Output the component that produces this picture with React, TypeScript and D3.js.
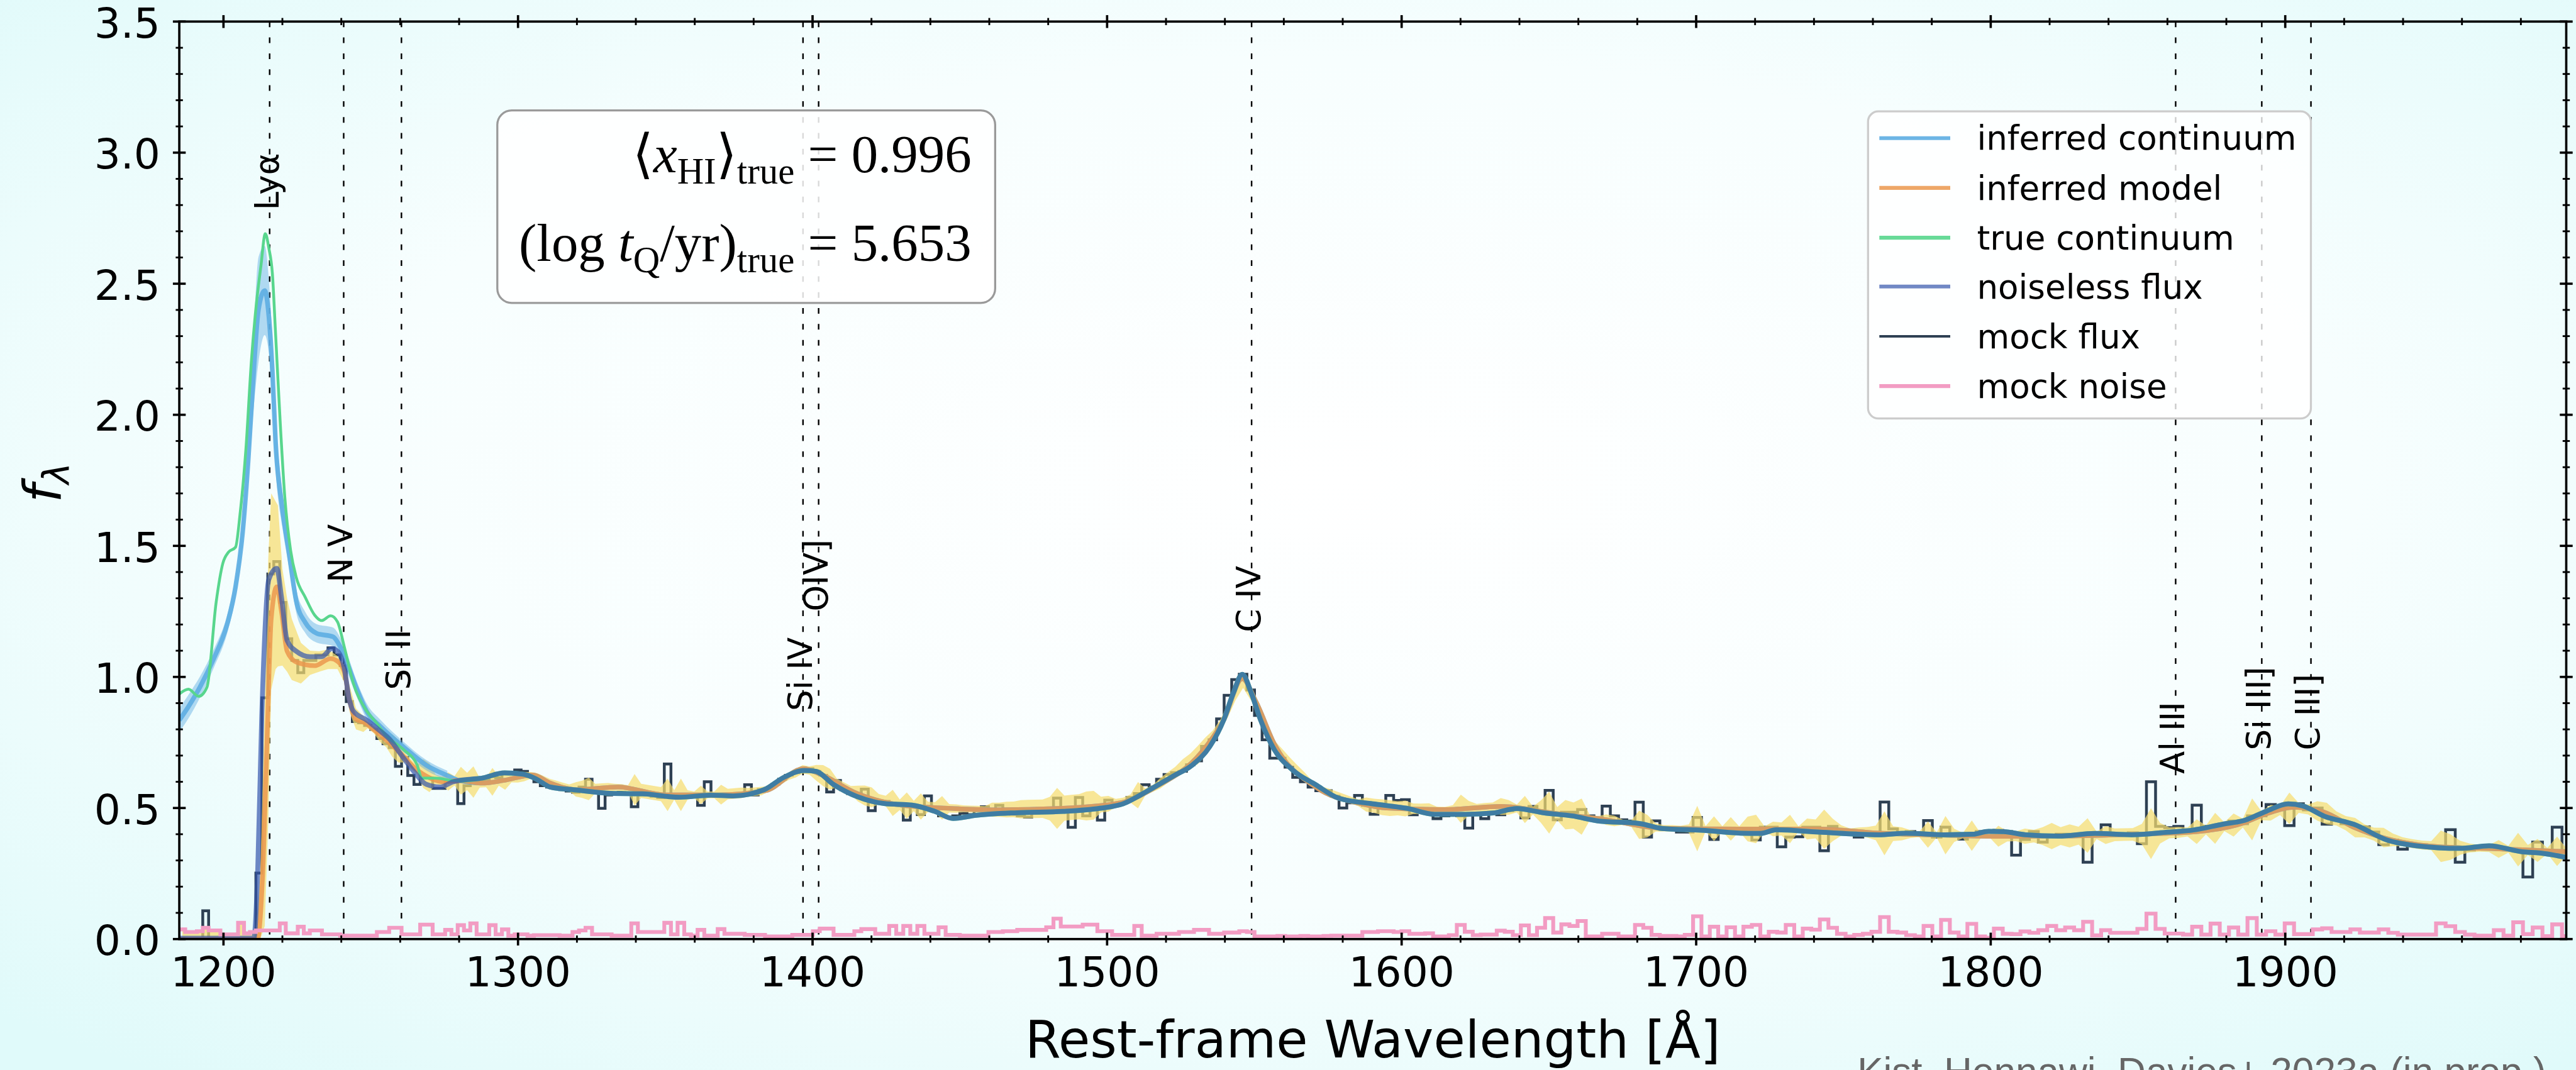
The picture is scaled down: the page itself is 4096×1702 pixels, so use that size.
import React, { useEffect } from 'react';
import * as d3 from 'd3';

// ---------- layout (reference pixel units; the svg viewBox scales to the window) ----------
const VW = 5014;
const VH = 2084;
const PL = 349, PR = 4995, PT = 42, PB = 1829;

// ---------- axes ----------
const X_DOMAIN: [number, number] = [1185.0, 1995.4];
const Y_DOMAIN: [number, number] = [0, 3.5];
const xTickValues = [1200, 1300, 1400, 1500, 1600, 1700, 1800, 1900];
const yTickValues = [0, 0.5, 1.0, 1.5, 2.0, 2.5, 3.0, 3.5];
const yTickLabels = ['0.0', '0.5', '1.0', '1.5', '2.0', '2.5', '3.0', '3.5'];

// ---------- emission lines ----------
const lineWaves = [1215.67, 1240.81, 1260.42, 1396.76, 1402.06, 1549.06, 1862.79, 1892.03, 1908.73];
const lineNames = ['Lyα', 'N V', 'Si II', 'Si IV', 'OIV]', 'C IV', 'Al III', 'Si III]', 'C III]'];
const lineLabelY = [2.78, 1.36, 0.95, 0.87, 1.25, 1.17, 0.63, 0.72, 0.72];

// ---------- smooth curves [wavelength, flux] ----------
const trueContBlue: [number, number][] = [
  [1185.0, 0.935], [1188.1, 0.953], [1191.6, 0.926], [1194.4, 0.961], [1197.5, 1.284], [1199.8, 1.434],
  [1201.7, 1.476], [1204.1, 1.495], [1205.6, 1.619], [1207.6, 1.867], [1209.5, 2.209], [1211.1, 2.416],
  [1212.7, 2.567], [1214.2, 2.691], [1215.4, 2.636], [1216.6, 2.539], [1217.7, 2.306], [1219.3, 1.963],
  [1220.8, 1.689], [1222.8, 1.482], [1224.7, 1.38], [1227.8, 1.303], [1231.0, 1.235], [1233.3, 1.215],
  [1236.4, 1.233], [1238.7, 1.21], [1241.1, 1.111], [1244.1, 0.975], [1248.4, 0.874], [1252.0, 0.824],
  [1254.9, 0.78], [1261.2, 0.722], [1265.8, 0.663], [1267.3, 0.614], [1272.0, 0.614], [1278.3, 0.605],
];

const noiselessBlue: [number, number][] = [
  [1185.0, 0.003], [1210.3, 0.004], [1211.6, 0.25], [1213.0, 0.85], [1215.4, 1.372], [1218.1, 1.414],
  [1219.7, 1.303], [1221.6, 1.139], [1224.7, 1.098], [1229.4, 1.077], [1233.3, 1.077], [1236.8, 1.108],
  [1238.7, 1.098], [1241.1, 1.029], [1242.6, 0.92], [1244.1, 0.87], [1248.7, 0.835], [1252.5, 0.80],
  [1256.5, 0.761], [1260.5, 0.70], [1264.3, 0.644], [1268.9, 0.59], [1273.6, 0.58], [1278.0, 0.60],
];

const inferContBlue: [number, number][] = [
  [1185.0, 0.835], [1188.0, 0.885], [1192.0, 0.961], [1196.7, 1.07], [1201.4, 1.207], [1204.1, 1.344],
  [1206.5, 1.551], [1208.4, 1.826], [1209.9, 2.1], [1211.9, 2.402], [1214.0, 2.474], [1215.4, 2.375],
  [1216.6, 2.168], [1217.7, 1.894], [1220.0, 1.64], [1222.3, 1.468], [1224.7, 1.29], [1227.8, 1.207],
  [1231.7, 1.166], [1237.2, 1.153], [1239.5, 1.118], [1241.9, 1.056], [1245.0, 0.961], [1248.8, 0.865],
  [1253.4, 0.81], [1261.2, 0.732], [1268.9, 0.663], [1276.0, 0.624],
];
const inferContBandHalf = [
  0.045, 0.045, 0.04, 0.035, 0.035, 0.04, 0.05, 0.07, 0.12, 0.2, 0.17, 0.14, 0.12, 0.1, 0.07, 0.055,
  0.045, 0.04, 0.035, 0.035, 0.035, 0.035, 0.03, 0.03, 0.025, 0.02, 0.02, 0.018,
];

const modelBlue: [number, number][] = [
  [1185.0, 0.0], [1211.5, 0.0], [1213.5, 0.3], [1215.0, 0.84], [1216.2, 1.221], [1218.1, 1.344],
  [1219.7, 1.249], [1221.6, 1.098], [1224.7, 1.057], [1231.0, 1.043], [1236.4, 1.07], [1238.7, 1.06],
  [1241.1, 1.016], [1242.6, 0.92], [1244.9, 0.84], [1248.0, 0.825], [1252.0, 0.79], [1256.0, 0.752],
  [1260.0, 0.71], [1265.0, 0.652], [1270.0, 0.615], [1275.0, 0.60],
];

// model band in the Lyα region: [wavelength, low, high]
const lyaModelBand: [number, number, number][] = [
  [1211.0, 0.0, 0.03], [1212.5, 0.0, 0.25], [1214.0, 0.05, 0.9], [1215.2, 0.45, 1.45], [1216.2, 0.95, 1.70],
  [1217.7, 1.03, 1.67], [1218.5, 1.04, 1.654], [1220.0, 1.043, 1.413], [1221.6, 1.02, 1.30],
  [1223.2, 0.988, 1.221], [1226.3, 0.975, 1.13], [1229.4, 1.008, 1.10], [1232.5, 1.02, 1.098],
  [1235.5, 1.03, 1.105], [1238.7, 1.03, 1.08], [1241.0, 0.98, 1.04], [1243.0, 0.86, 0.96],
  [1245.0, 0.80, 0.88], [1247.5, 0.79, 0.85],
];

// red side (no absorption): true path (true continuum = noiseless) and inferred path
const redTrue: [number, number][] = [
  [1280.0, 0.605], [1287.7, 0.614], [1295.4, 0.634], [1301.7, 0.629], [1306.3, 0.61], [1310.9, 0.58],
  [1320.4, 0.568], [1331.3, 0.556], [1342.2, 0.554], [1354.6, 0.541], [1365.5, 0.549], [1373.0, 0.546],
  [1383.8, 0.571], [1390.1, 0.616], [1397.1, 0.643], [1401.0, 0.64], [1407.2, 0.589], [1415.0, 0.544],
  [1424.3, 0.517], [1433.7, 0.511], [1441.5, 0.487], [1447.7, 0.46], [1455.5, 0.472], [1469.5, 0.482],
  [1485.1, 0.487], [1497.6, 0.499], [1505.4, 0.516], [1513.1, 0.561], [1522.5, 0.622], [1528.7, 0.662],
  [1534.9, 0.735], [1539.6, 0.836], [1542.8, 0.937], [1545.9, 1.01], [1549.0, 0.937], [1552.1, 0.836],
  [1556.7, 0.724], [1563.0, 0.645], [1570.8, 0.589], [1578.5, 0.538], [1589.5, 0.517], [1595.1, 0.509],
  [1601.7, 0.499], [1611.1, 0.476], [1621.8, 0.476], [1631.1, 0.481], [1639.1, 0.498], [1648.5, 0.481],
  [1657.8, 0.47], [1667.1, 0.45], [1680.6, 0.441], [1688.5, 0.422], [1701.8, 0.415], [1715.2, 0.404],
  [1721.9, 0.403], [1727.2, 0.417], [1741.9, 0.408], [1761.9, 0.398], [1771.3, 0.404], [1784.6, 0.398],
  [1793.9, 0.40], [1799.3, 0.411], [1804.4, 0.41], [1811.8, 0.398], [1823.0, 0.393], [1835.4, 0.403],
  [1847.8, 0.398], [1860.2, 0.408], [1868.8, 0.416], [1878.7, 0.438], [1886.2, 0.453], [1893.6, 0.488],
  [1901.0, 0.516], [1906.0, 0.508], [1913.4, 0.468], [1923.3, 0.438], [1934.5, 0.378], [1944.5, 0.356],
  [1959.3, 0.346], [1969.2, 0.356], [1980.4, 0.333], [1986.6, 0.328], [1996.0, 0.31],
];

const redInferred: [number, number][] = [
  [1280.0, 0.605], [1287.7, 0.595], [1295.0, 0.605], [1305.0, 0.626], [1311.0, 0.595], [1320.0, 0.57],
  [1334.0, 0.58], [1350.0, 0.55], [1368.0, 0.55], [1384.0, 0.566], [1397.0, 0.65], [1402.5, 0.63],
  [1415.0, 0.556], [1430.0, 0.511], [1446.0, 0.499], [1462.0, 0.493], [1485.0, 0.499], [1505.0, 0.521],
  [1516.0, 0.577], [1532.0, 0.712], [1539.6, 0.836], [1545.9, 0.993], [1550.6, 0.904], [1556.7, 0.746],
  [1570.8, 0.58], [1586.0, 0.517], [1595.0, 0.50], [1615.0, 0.494], [1633.8, 0.506], [1651.0, 0.481],
  [1669.0, 0.456], [1688.0, 0.423], [1715.0, 0.42], [1742.0, 0.42], [1762.0, 0.404], [1782.0, 0.397],
  [1804.0, 0.392], [1825.0, 0.393], [1850.0, 0.40], [1870.0, 0.41], [1885.0, 0.44], [1893.6, 0.478],
  [1903.0, 0.503], [1913.0, 0.485], [1923.0, 0.428], [1934.5, 0.383], [1945.0, 0.36], [1960.0, 0.348],
  [1970.0, 0.345], [1982.0, 0.34], [1996.0, 0.333],
];

// ---------- binned mock spectrum (500 km/s pixels starting at 1185.03 Å) ----------
const BIN_START = 1185.03;
const BIN_DLN = 0.0016678;

const mockFlux = [
  0, 0, 0, 0, 0.108, 0, 0, 0, 0, 0,
  0, 0, 0, 0.252, 0.92, 1.393, 1.44, 1.284, 1.146, 1.063,
  1.016, 1.063, 1.063, 1.084, 1.084, 1.111, 1.084, 1.043, 0.906, 0.83,
  0.825, 0.815, 0.80, 0.765, 0.745, 0.73, 0.659, 0.693, 0.624, 0.59,
  0.614, 0.614, 0.575, 0.575, 0.60, 0.60, 0.517, 0.585, 0.61, 0.60,
  0.605, 0.62, 0.615, 0.63, 0.635, 0.645, 0.64, 0.62, 0.60, 0.585,
  0.58, 0.575, 0.57, 0.565, 0.56, 0.58, 0.61, 0.575, 0.499, 0.55,
  0.555, 0.56, 0.555, 0.505, 0.55, 0.555, 0.545, 0.54, 0.668, 0.545,
  0.54, 0.545, 0.55, 0.51, 0.60, 0.55, 0.545, 0.55, 0.545, 0.55,
  0.589, 0.55, 0.57, 0.575, 0.59, 0.61, 0.625, 0.635, 0.645, 0.65,
  0.64, 0.625, 0.561, 0.605, 0.57, 0.555, 0.545, 0.572, 0.49, 0.52,
  0.525, 0.515, 0.51, 0.454, 0.51, 0.475, 0.546, 0.49, 0.47, 0.465,
  0.47, 0.48, 0.475, 0.49, 0.505, 0.485, 0.51, 0.48, 0.476, 0.47,
  0.465, 0.48, 0.485, 0.49, 0.538, 0.49, 0.426, 0.54, 0.47, 0.50,
  0.454, 0.53, 0.51, 0.52, 0.54, 0.555, 0.589, 0.58, 0.61, 0.628,
  0.635, 0.64, 0.665, 0.68, 0.735, 0.76, 0.84, 0.93, 0.99, 1.01,
  0.95, 0.853, 0.76, 0.69, 0.69, 0.656, 0.617, 0.60, 0.58, 0.566,
  0.566, 0.545, 0.50, 0.52, 0.548, 0.51, 0.476, 0.50, 0.548, 0.529,
  0.532, 0.474, 0.49, 0.48, 0.459, 0.47, 0.475, 0.47, 0.423, 0.48,
  0.459, 0.48, 0.474, 0.49, 0.50, 0.462, 0.506, 0.49, 0.567, 0.455,
  0.484, 0.484, 0.494, 0.47, 0.451, 0.507, 0.47, 0.455, 0.45, 0.522,
  0.389, 0.451, 0.418, 0.418, 0.408, 0.408, 0.464, 0.42, 0.38, 0.415,
  0.405, 0.41, 0.418, 0.378, 0.427, 0.427, 0.352, 0.389, 0.39, 0.427,
  0.427, 0.337, 0.43, 0.405, 0.41, 0.389, 0.40, 0.405, 0.523, 0.42,
  0.40, 0.41, 0.405, 0.452, 0.389, 0.427, 0.40, 0.381, 0.40, 0.41,
  0.41, 0.415, 0.41, 0.32, 0.38, 0.41, 0.37, 0.395, 0.40, 0.40,
  0.40, 0.293, 0.40, 0.436, 0.40, 0.40, 0.405, 0.364, 0.60, 0.43,
  0.425, 0.43, 0.41, 0.511, 0.43, 0.418, 0.44, 0.45, 0.44, 0.47,
  0.47, 0.513, 0.505, 0.433, 0.516, 0.493, 0.50, 0.438, 0.453, 0.44,
  0.43, 0.428, 0.408, 0.36, 0.378, 0.343, 0.355, 0.36, 0.35, 0.35,
  0.417, 0.293, 0.34, 0.353, 0.355, 0.343, 0.34, 0.335, 0.237, 0.37,
  0.33, 0.427, 0.33,
];

const mockNoise = [
  0.037, 0.027, 0.027, 0.03, 0.043, 0.033, 0.033, 0.018, 0.018, 0.018,
  0.062, 0.022, 0.027, 0.033, 0.033, 0.033, 0.033, 0.06, 0.022, 0.022,
  0.047, 0.022, 0.033, 0.033, 0.018, 0.018, 0.018, 0.013, 0.013, 0.013,
  0.013, 0.013, 0.013, 0.027, 0.027, 0.043, 0.043, 0.018, 0.018, 0.018,
  0.055, 0.055, 0.018, 0.018, 0.035, 0.018, 0.053, 0.033, 0.06, 0.018,
  0.018, 0.053, 0.018, 0.037, 0.013, 0.018, 0.018, 0.013, 0.015, 0.015,
  0.015, 0.015, 0.013, 0.013, 0.027, 0.033, 0.043, 0.018, 0.018, 0.018,
  0.013, 0.013, 0.013, 0.06, 0.027, 0.027, 0.027, 0.027, 0.062, 0.018,
  0.062, 0.018, 0.013, 0.035, 0.013, 0.013, 0.038, 0.02, 0.02, 0.02,
  0.016, 0.016, 0.016, 0.01, 0.01, 0.01, 0.01, 0.016, 0.016, 0.016,
  0.03, 0.04, 0.04, 0.016, 0.016, 0.016, 0.03, 0.038, 0.038, 0.02,
  0.02, 0.05, 0.02, 0.05, 0.02, 0.05, 0.02, 0.02, 0.045, 0.016,
  0.016, 0.013, 0.013, 0.013, 0.013, 0.027, 0.027, 0.03, 0.03, 0.035,
  0.035, 0.035, 0.035, 0.045, 0.078, 0.048, 0.048, 0.048, 0.055, 0.055,
  0.03, 0.03, 0.016, 0.016, 0.016, 0.05, 0.013, 0.013, 0.02, 0.02,
  0.02, 0.027, 0.027, 0.035, 0.035, 0.02, 0.02, 0.025, 0.025, 0.03,
  0.027, 0.01, 0.01, 0.01, 0.012, 0.01, 0.01, 0.012, 0.01, 0.01,
  0.012, 0.013, 0.013, 0.013, 0.013, 0.027, 0.027, 0.03, 0.03, 0.027,
  0.03, 0.02, 0.02, 0.022, 0.01, 0.01, 0.015, 0.054, 0.028, 0.015,
  0.017, 0.017, 0.032, 0.028, 0.015, 0.052, 0.015, 0.043, 0.08, 0.025,
  0.056, 0.05, 0.069, 0.01, 0.01, 0.02, 0.02, 0.01, 0.01, 0.054,
  0.043, 0.016, 0.012, 0.012, 0.01, 0.016, 0.087, 0.01, 0.047, 0.01,
  0.045, 0.01, 0.047, 0.054, 0.01, 0.028, 0.025, 0.054, 0.01, 0.04,
  0.036, 0.075, 0.043, 0.02, 0.01, 0.016, 0.02, 0.028, 0.084, 0.028,
  0.025, 0.015, 0.01, 0.05, 0.01, 0.073, 0.025, 0.01, 0.058, 0.01,
  0.005, 0.04, 0.02, 0.019, 0.029, 0.024, 0.034, 0.05, 0.034, 0.044,
  0.034, 0.066, 0.014, 0.034, 0.024, 0.024, 0.024, 0.039, 0.097, 0.039,
  0.021, 0.021, 0.017, 0.047, 0.017, 0.059, 0.017, 0.044, 0.017, 0.08,
  0.017, 0.03, 0.017, 0.06, 0.019, 0.019, 0.037, 0.041, 0.027, 0.027,
  0.037, 0.025, 0.025, 0.037, 0.024, 0.017, 0.017, 0.017, 0.017, 0.06,
  0.049, 0.027, 0.017, 0.013, 0.013, 0.034, 0.013, 0.064, 0.019, 0.044,
  0.011, 0.056, 0.011,
];

// ---------- legend ----------
const legendLabels = ['inferred continuum', 'inferred model', 'true continuum', 'noiseless flux', 'mock flux', 'mock noise'];

// ---------- styles ----------
const C_INFCONT = '#5dade2';
const C_MODEL = '#eb984e';
const C_TRUE = '#58d68d';
const C_NOISELESS = '#3556ad';
const C_MOCK = '#2e4053';
const C_NOISE = '#f29cc3';
const C_BAND = '#f7dc6f';

const legendStyles = [
  { color: C_INFCONT, width: 7.5, opacity: 0.9 },
  { color: C_MODEL, width: 7.5, opacity: 0.85 },
  { color: C_TRUE, width: 7.5, opacity: 0.9 },
  { color: C_NOISELESS, width: 7.5, opacity: 0.7 },
  { color: C_MOCK, width: 5, opacity: 1 },
  { color: C_NOISE, width: 7.5, opacity: 1 },
];

function interpAt(pts: [number, number][], lam: number): number {
  if (lam <= pts[0][0]) return pts[0][1];
  for (let i = 1; i < pts.length; i++) {
    if (lam <= pts[i][0]) {
      const [l0, v0] = pts[i - 1];
      const [l1, v1] = pts[i];
      return v0 + ((v1 - v0) * (lam - l0)) / (l1 - l0);
    }
  }
  return pts[pts.length - 1][1];
}

export default function App() {
  useEffect(() => {
    document.body.style.margin = '0';
    document.body.style.overflow = 'hidden';
  }, []);

  const x = d3.scaleLinear().domain(X_DOMAIN).range([PL, PR]);
  const y = d3.scaleLinear().domain(Y_DOMAIN).range([PB, PT]);

  const nBins = mockFlux.length;
  const edges = d3.range(nBins + 1).map((i) => BIN_START * Math.exp(BIN_DLN * i));

  const stepLine = d3
    .line<[number, number]>()
    .x((d) => x(d[0]))
    .y((d) => y(d[1]))
    .curve(d3.curveStepAfter);
  const stepPts = (vals: number[]): [number, number][] => {
    const pts: [number, number][] = vals.map((v, i) => [edges[i], v]);
    pts.push([edges[vals.length], vals[vals.length - 1]]);
    return pts;
  };

  const smooth = d3
    .line<[number, number]>()
    .x((d) => x(d[0]))
    .y((d) => y(d[1]))
    .curve(d3.curveMonotoneX);

  const trueContinuum = [...trueContBlue, ...redTrue];
  const noiseless = [...noiselessBlue, ...redTrue];
  const inferredContinuum = [...inferContBlue, ...redInferred];
  const inferredModel = [...modelBlue, ...redInferred];

  // inferred-continuum band (Lyα region)
  const contBand = d3
    .area<[number, number]>()
    .x((d) => x(d[0]))
    .y0((d, i) => y(d[1] - inferContBandHalf[i]))
    .y1((d, i) => y(d[1] + inferContBandHalf[i]))
    .curve(d3.curveMonotoneX)(inferContBlue);

  // model band: Lyα-region explicit band plus model ± pixel noise elsewhere
  const bandPts: { l: number; lo: number; hi: number }[] = [];
  for (let i = 0; i < nBins; i++) {
    const c = Math.sqrt(edges[i] * edges[i + 1]);
    if (c < lyaModelBand[0][0] || c > lyaModelBand[lyaModelBand.length - 1][0]) {
      const m = interpAt(inferredModel, c);
      bandPts.push({ l: c, lo: m - mockNoise[i], hi: m + mockNoise[i] });
    }
  }
  lyaModelBand.forEach(([l, lo, hi]) => bandPts.push({ l, lo, hi }));
  bandPts.sort((a, b) => a.l - b.l);
  const modelBand = d3
    .area<{ l: number; lo: number; hi: number }>()
    .x((d) => x(d.l))
    .y0((d) => y(d.lo))
    .y1((d) => y(d.hi))
    .curve(d3.curveLinear)(bandPts);

  const xMinor = d3.range(1200, X_DOMAIN[1], 20).filter((v) => v % 100 !== 0);
  const yMinor = d3.range(0, 3.51, 0.1).map((v) => Math.round(v * 10) / 10).filter((v) => Math.round(v * 10) % 5 !== 0);

  const MAJ = 12.5, MIN = 7;
  const font = "'DejaVu Sans', 'Noto Sans', sans-serif";
  const serif = "'Liberation Serif', 'DejaVu Serif', serif";

  const legendRows = [269, 366, 463, 558, 655, 752];

  return (
    <svg
      width={4096}
      height={1702}
      viewBox={`0 0 ${VW} ${VH}`}
      preserveAspectRatio="none"
      style={{ position: 'fixed', left: 0, top: 0, display: 'block' }}
    >
      <defs>
        <radialGradient id="bg" cx="52%" cy="45%" r="72%">
          <stop offset="0%" stopColor="#ffffff" />
          <stop offset="55%" stopColor="#f7fefe" />
          <stop offset="100%" stopColor="#e0fafa" />
        </radialGradient>
        <clipPath id="plotClip">
          <rect x={PL} y={PT} width={PR - PL} height={PB - PT} />
        </clipPath>
      </defs>
      <rect x={0} y={0} width={VW} height={VH} fill="url(#bg)" />

      {/* vertical line markers */}
      <g clipPath="url(#plotClip)">
        {lineWaves.map((lw, i) => (
          <line key={'vl' + i} x1={x(lw)} x2={x(lw)} y1={PT} y2={PB} stroke="#000" strokeWidth={3} strokeDasharray="11 20" />
        ))}
      </g>

      {/* data */}
      <g clipPath="url(#plotClip)">
        <path d={stepLine(stepPts(mockFlux)) || ''} fill="none" stroke={C_MOCK} strokeWidth={5.5} strokeLinejoin="miter" />
        <path d={modelBand || ''} fill={C_BAND} fillOpacity={0.72} stroke="none" />
        <path d={contBand || ''} fill={C_INFCONT} fillOpacity={0.45} stroke="none" />
        <path d={smooth(inferredContinuum) || ''} fill="none" stroke={C_INFCONT} strokeOpacity={0.9} strokeWidth={9} strokeLinejoin="round" />
        <path d={smooth(inferredModel) || ''} fill="none" stroke={C_MODEL} strokeOpacity={0.85} strokeWidth={9} strokeLinejoin="round" />
        <path d={smooth(trueContinuum) || ''} fill="none" stroke={C_TRUE} strokeWidth={5.5} strokeLinejoin="round" />
        <path d={smooth(redTrue) || ''} fill="none" stroke={C_TRUE} strokeWidth={9.5} strokeLinejoin="round" />
        <path d={smooth(noiseless) || ''} fill="none" stroke={C_NOISELESS} strokeOpacity={0.7} strokeWidth={9.5} strokeLinejoin="round" />
        <path d={stepLine(stepPts(mockNoise)) || ''} fill="none" stroke={C_NOISE} strokeWidth={7.5} />
      </g>

      {/* line labels */}
      {lineWaves.map((lw, i) => (
        <text
          key={'lab' + i}
          transform={`translate(${x(lw) + 17},${y(lineLabelY[i])}) rotate(-90)`}
          fontFamily={font}
          fontSize={65}
          fill="#000"
        >
          {lineNames[i]}
        </text>
      ))}

      {/* axes frame */}
      <rect x={PL} y={PT} width={PR - PL} height={PB - PT} fill="none" stroke="#000" strokeWidth={4.5} />

      {/* x ticks */}
      {xTickValues.map((v) => (
        <g key={'xt' + v}>
          <line x1={x(v)} x2={x(v)} y1={PB - MAJ} y2={PB + MAJ} stroke="#000" strokeWidth={4.5} />
          <line x1={x(v)} x2={x(v)} y1={PT - MAJ} y2={PT + MAJ} stroke="#000" strokeWidth={4.5} />
          <text x={x(v)} y={1921} textAnchor="middle" fontFamily={font} fontSize={81}>
            {v}
          </text>
        </g>
      ))}
      {xMinor.map((v) => (
        <g key={'xm' + v}>
          <line x1={x(v)} x2={x(v)} y1={PB - MIN} y2={PB + MIN} stroke="#000" strokeWidth={3.5} />
          <line x1={x(v)} x2={x(v)} y1={PT - MIN} y2={PT + MIN} stroke="#000" strokeWidth={3.5} />
        </g>
      ))}

      {/* y ticks */}
      {yTickValues.map((v, i) => (
        <g key={'yt' + v}>
          <line x1={PL - MAJ} x2={PL + MAJ} y1={y(v)} y2={y(v)} stroke="#000" strokeWidth={4.5} />
          <line x1={PR - MAJ} x2={PR + MAJ} y1={y(v)} y2={y(v)} stroke="#000" strokeWidth={4.5} />
          <text x={312} y={y(v) + 31} textAnchor="end" fontFamily={font} fontSize={81}>
            {yTickLabels[i]}
          </text>
        </g>
      ))}
      {yMinor.map((v) => (
        <g key={'ym' + v}>
          <line x1={PL - MIN} x2={PL + MIN} y1={y(v)} y2={y(v)} stroke="#000" strokeWidth={3.5} />
          <line x1={PR - MIN} x2={PR + MIN} y1={y(v)} y2={y(v)} stroke="#000" strokeWidth={3.5} />
        </g>
      ))}

      {/* axis labels */}
      <text x={(PL + PR) / 2} y={2059} textAnchor="middle" fontFamily={font} fontSize={100}>
        Rest-frame Wavelength [Å]
      </text>
      <text transform="translate(118,940) rotate(-90)" textAnchor="middle" fontFamily={font} fontSize={101}>
        <tspan fontStyle="italic">f</tspan>
        <tspan fontStyle="italic" fontSize={71} dy={17}>
          λ
        </tspan>
      </text>

      {/* annotation box */}
      <rect x={968} y={215} width={969} height={375} rx={28} ry={28} fill="#ffffff" fillOpacity={0.85} stroke="#9a9a9a" strokeWidth={4} />
      <text x={1891} y={335} textAnchor="end" fontFamily={serif} fontSize={104}>
        <tspan>⟨</tspan>
        <tspan fontStyle="italic">x</tspan>
        <tspan fontSize={72} dy={22}>HI</tspan>
        <tspan dy={-22}>⟩</tspan>
        <tspan fontSize={72} dy={22}>true</tspan>
        <tspan dy={-22}>{'\u00a0=\u00a00.996'}</tspan>
      </text>
      <text x={1891} y={508} textAnchor="end" fontFamily={serif} fontSize={104}>
        <tspan>{'(log\u00a0'}</tspan>
        <tspan fontStyle="italic">t</tspan>
        <tspan fontSize={72} dy={22}>Q</tspan>
        <tspan dy={-22}>/yr)</tspan>
        <tspan fontSize={72} dy={22}>true</tspan>
        <tspan dy={-22}>{'\u00a0=\u00a05.653'}</tspan>
      </text>

      {/* legend */}
      <rect x={3636} y={217} width={862} height={598} rx={20} ry={20} fill="#ffffff" fillOpacity={0.8} stroke="#cccccc" strokeWidth={4} />
      {legendLabels.map((lab, i) => (
        <g key={'lg' + i}>
          <line
            x1={3658}
            x2={3796}
            y1={legendRows[i]}
            y2={legendRows[i]}
            stroke={legendStyles[i].color}
            strokeOpacity={legendStyles[i].opacity}
            strokeWidth={legendStyles[i].width}
          />
          <text x={3848} y={legendRows[i] + 23} fontFamily={font} fontSize={65}>
            {lab}
          </text>
        </g>
      ))}

      {/* credit */}
      <text x={3615} y={2114} fontFamily="'Liberation Sans', Arial, sans-serif" fontSize={76} fill="#666666">
        Kist, Hennawi, Davies+ 2023a (in prep.)
      </text>
    </svg>
  );
}
